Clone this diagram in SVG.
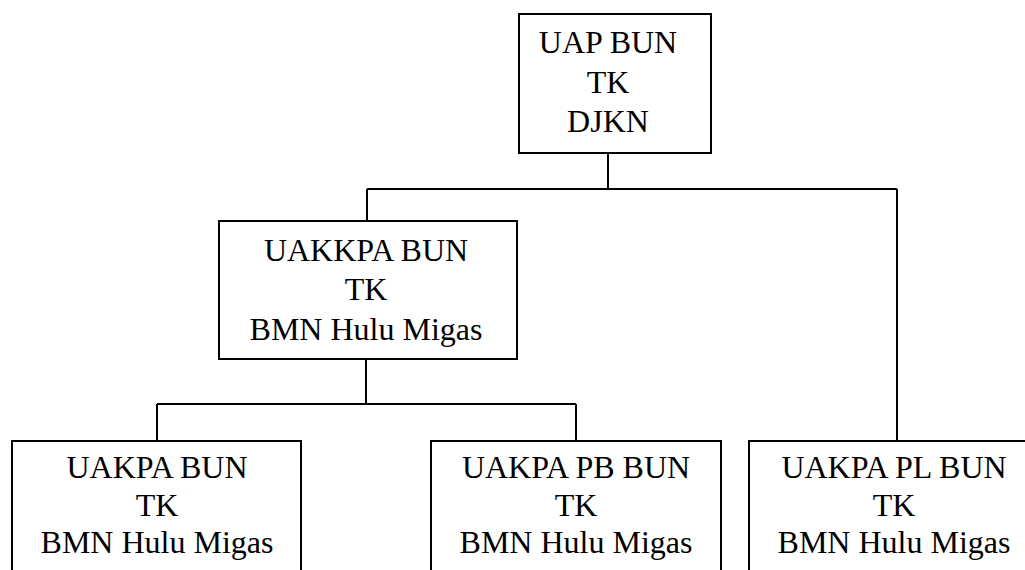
<svg xmlns="http://www.w3.org/2000/svg" width="1025" height="570" viewBox="0 0 1025 570">
<style>
.box{fill:#fff;stroke:#000;stroke-width:2}
.lbl{font-family:"Liberation Serif","Times New Roman",serif;font-size:32px;fill:#000;text-anchor:middle}
.con{fill:none;stroke:#000;stroke-width:2}
</style>
<rect width="1025" height="570" fill="#fff"/>
<g id="connectors">
<path class="con" d="M608,153 V189 M367,189 H897 M367,189 V221 M897,189 V441"/>
<path class="con" d="M366,359 V404 M157,404 H576 M157,404 V441 M576,404 V441"/>
</g>
<g id="uap">
<rect class="box" x="519" y="14" width="192" height="139"/>
<text class="lbl" x="608" y="53">UAP BUN</text>
<text class="lbl" x="608" y="93">TK</text>
<text class="lbl" x="608" y="132">DJKN</text>
</g>
<g id="uakkpa">
<rect class="box" x="219" y="221" width="298" height="138"/>
<text class="lbl" x="366" y="261">UAKKPA BUN</text>
<text class="lbl" x="366" y="300">TK</text>
<text class="lbl" x="366" y="340">BMN Hulu Migas</text>
</g>
<g id="uakpa">
<rect class="box" x="12" y="441" width="289" height="160"/>
<text class="lbl" x="157" y="478">UAKPA BUN</text>
<text class="lbl" x="157" y="516">TK</text>
<text class="lbl" x="157" y="553">BMN Hulu Migas</text>
</g>
<g id="uakpa-pb">
<rect class="box" x="431" y="441" width="290" height="160"/>
<text class="lbl" x="576" y="478">UAKPA PB BUN</text>
<text class="lbl" x="576" y="516">TK</text>
<text class="lbl" x="576" y="553">BMN Hulu Migas</text>
</g>
<g id="uakpa-pl">
<rect class="box" x="749" y="441" width="290" height="160"/>
<text class="lbl" x="894" y="478">UAKPA PL BUN</text>
<text class="lbl" x="894" y="516">TK</text>
<text class="lbl" x="894" y="553">BMN Hulu Migas</text>
</g>
</svg>
